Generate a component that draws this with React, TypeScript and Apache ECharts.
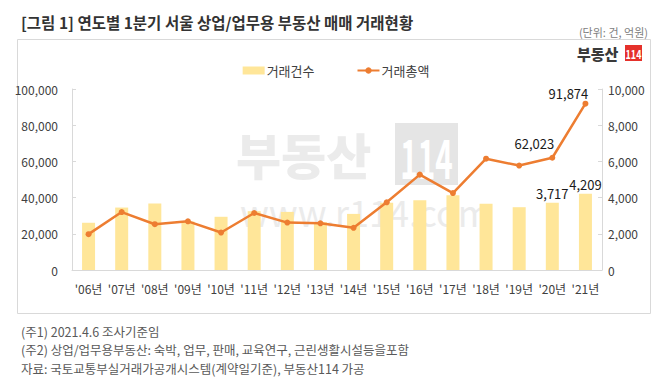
import React, { useEffect, useRef } from "react";
import * as echarts from "echarts";

const categories = ["'06년", "'07년", "'08년", "'09년", "'10년", "'11년", "'12년", "'13년", "'14년", "'15년", "'16년", "'17년", "'18년", "'19년", "'20년", "'21년"];
const countValues = [2610, 3450, 3670, 2680, 2940, 3250, 3210, 2640, 3100, 3710, 3860, 4130, 3660, 3470, 3717, 4209];
const amountValues = [19800, 32000, 25300, 26900, 20700, 31500, 26200, 25800, 23300, 37400, 52700, 42500, 61500, 57700, 62023, 91874];
const leftTicks = { min: 0, max: 100000, interval: 20000 };
const rightTicks = { min: 0, max: 10000, interval: 2000 };
const labeledCount = [14, 15];
const amountLabelOffsets: Record<number, number[]> = { 14: [-18, 0], 15: [-17, 4] };

const title = "[그림 1] 연도별 1분기 서울 상업/업무용 부동산 매매 거래현황";
const unitText = "(단위: 건, 억원)";
const notes = [
  "(주1) 2021.4.6 조사기준임",
  "(주2) 상업/업무용부동산: 숙박, 업무, 판매, 교육연구, 근린생활시설등을포함",
  "자료: 국토교통부실거래가공개시스템(계약일기준), 부동산114 가공",
];

const FONT = "'Noto Sans CJK KR', 'Noto Sans', sans-serif";
const fmt = (v: number) => v.toLocaleString("en-US");

export default function App() {
  const ref = useRef<HTMLDivElement>(null);
  useEffect(() => {
    if (!ref.current) return;
    const chart = echarts.init(ref.current, null, { renderer: "svg" });
    const option: any = {
      animation: false,
      textStyle: { fontFamily: FONT },
      grid: { left: 72, right: 70, top: 89, bottom: 113 },
      legend: {
        top: 59,
        left: "center",
        itemGap: 42,
        itemWidth: 22,
        itemHeight: 8,
        textStyle: { fontSize: 13, color: "#404040", fontFamily: FONT, padding: [0, 0, 0, -3] },
        data: [
          { name: "거래건수", icon: "rect", itemStyle: { color: "#FFE699" } },
          { name: "거래총액" },
        ],
      },
      xAxis: {
        type: "category",
        data: categories,
        axisLine: { lineStyle: { color: "#d9d9d9" } },
        axisTick: { show: false },
        axisLabel: { color: "#404040", fontSize: 12, margin: 12, interval: 0, fontFamily: FONT },
      },
      yAxis: [
        {
          type: "value",
          position: "left",
          min: leftTicks.min,
          max: leftTicks.max,
          interval: leftTicks.interval,
          axisLine: { show: true, lineStyle: { color: "#d9d9d9" } },
          axisTick: { show: true, inside: true, length: 4, lineStyle: { color: "#d9d9d9" } },
          splitLine: { show: false },
          axisLabel: { color: "#404040", fontSize: 12, margin: 14, formatter: (v: number) => fmt(v), fontFamily: FONT },
        },
        {
          type: "value",
          position: "right",
          min: rightTicks.min,
          max: rightTicks.max,
          interval: rightTicks.interval,
          axisLine: { show: true, lineStyle: { color: "#d9d9d9" } },
          axisTick: { show: true, inside: true, length: 4, lineStyle: { color: "#d9d9d9" } },
          splitLine: { show: false },
          axisLabel: { color: "#404040", fontSize: 12, margin: 6, formatter: (v: number) => fmt(v), fontFamily: FONT },
        },
      ],
      series: [
        {
          name: "거래건수",
          type: "bar",
          yAxisIndex: 1,
          barWidth: 13,
          itemStyle: { color: "#FFE699" },
          data: countValues.map((v, i) =>
            labeledCount.includes(i)
              ? { value: v, label: { show: true, position: "top", distance: 3, formatter: (p: any) => fmt(p.value), fontSize: 13, color: "#1a1a1a", fontFamily: FONT } }
              : v
          ),
          z: 5,
        },
        {
          name: "거래총액",
          type: "line",
          yAxisIndex: 0,
          symbol: "circle",
          symbolSize: 6,
          itemStyle: { color: "#ED7D31" },
          lineStyle: { color: "#ED7D31", width: 2.5 },
          data: amountValues.map((v, i) =>
            amountLabelOffsets[i]
              ? { value: v, label: { show: true, position: "top", offset: amountLabelOffsets[i], formatter: (p: any) => fmt(p.value), fontSize: 13, color: "#1a1a1a", fontFamily: FONT } }
              : v
          ),
          z: 6,
        },
      ],
      graphic: [
        { type: "rect", shape: { x: 17.5, y: 39.5, width: 633, height: 274 }, style: { fill: "none", stroke: "#d9d9d9", lineWidth: 1 }, z: -10, silent: true },
        { type: "text", x: 21, y: 22, style: { text: title, fill: "#333333", font: `bold 15.5px ${FONT}`, textAlign: "left", textVerticalAlign: "middle" } },
        { type: "text", x: 648, y: 32, style: { text: unitText, fill: "#808080", font: `11px ${FONT}`, textAlign: "right", textVerticalAlign: "middle" } },
        { type: "text", x: 577, y: 53, style: { text: "부동산", fill: "#3a3a3a", font: `900 15px ${FONT}`, textAlign: "left", textVerticalAlign: "middle" } },
        { type: "rect", shape: { x: 625, y: 45, width: 17, height: 16 }, style: { fill: "#E5312B" } },
        { type: "text", x: 633.5, y: 53.5, scaleX: 0.75, style: { text: "114", fill: "#ffffff", font: `bold 12px ${FONT}`, textAlign: "center", textVerticalAlign: "middle" } },
        // watermark (beneath the series)
        { type: "text", x: 236, y: 153, silent: true, z: 0, style: { text: "부동산", fill: "#ebebeb", font: `900 49px ${FONT}`, textAlign: "left", textVerticalAlign: "middle" } },
        { type: "rect", silent: true, z: 0, shape: { x: 395, y: 123, width: 63, height: 62 }, style: { fill: "#e5e5e5" } },
        { type: "text", x: 426.5, y: 155, scaleX: 0.55, silent: true, z: 1, style: { text: "114", fill: "#ffffff", font: `bold 54px ${FONT}`, textAlign: "center", textVerticalAlign: "middle" } },
        { type: "text", x: 240, y: 211, silent: true, z: 0, style: { text: "www.r114.com", fill: "#ebebeb", font: `36px ${FONT}`, textAlign: "left", textVerticalAlign: "middle" } },
        ...notes.map((t, i) => ({
          type: "text",
          x: 21,
          y: 331 + i * 18.5,
          style: { text: t, fill: "#595959", font: `12.5px ${FONT}`, textAlign: "left", textVerticalAlign: "middle" },
        })),
      ],
    };
    chart.setOption(option);
    return () => chart.dispose();
  }, []);
  return <div ref={ref} style={{ position: "absolute", left: 0, top: 0, width: 672, height: 383, background: "#fff" }} />;
}
